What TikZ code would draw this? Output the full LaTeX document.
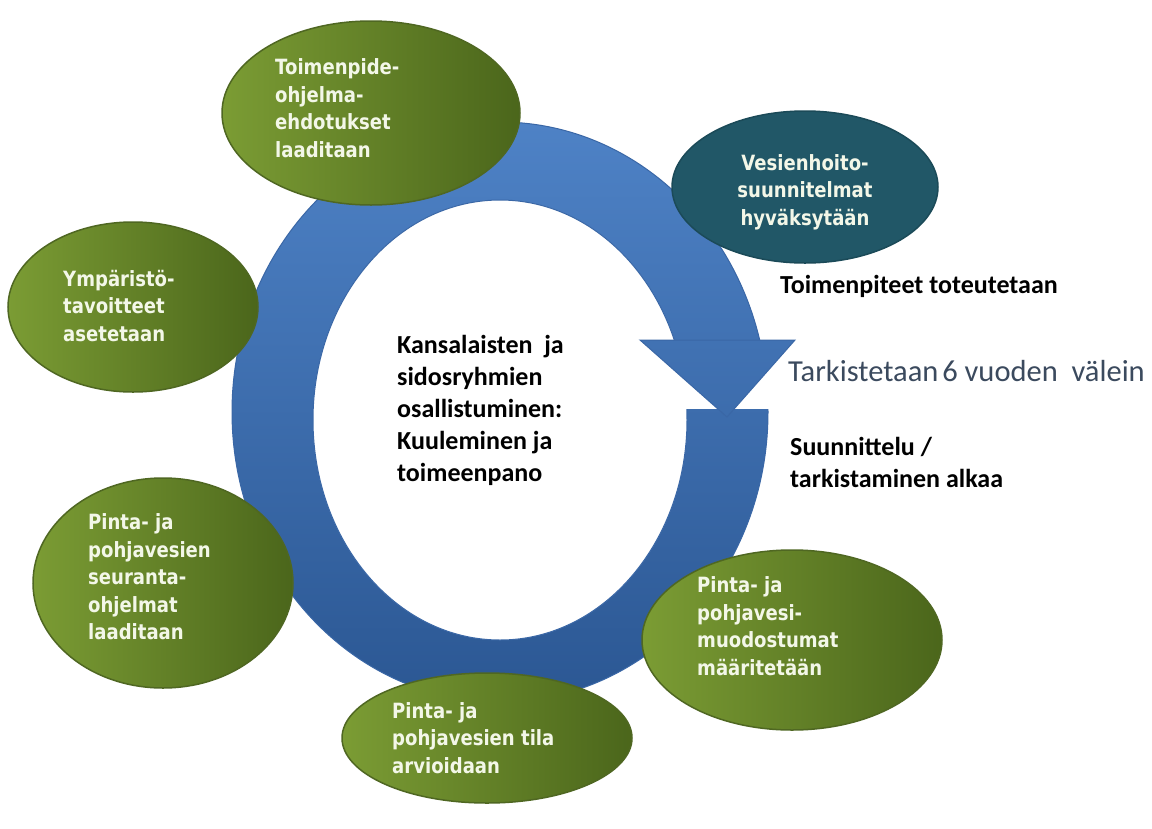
\documentclass[tikz,border=0pt]{standalone}
\usepackage{fontspec}
\setmainfont{Carlito}
\newfontfamily\boxfont[FakeStretch=0.86]{DejaVu Sans Bold}
\usetikzlibrary{shapes.geometric}
\definecolor{ringtop}{HTML}{4E82C6}
\definecolor{ringbot}{HTML}{2B5793}
\definecolor{ringedge}{HTML}{3A67A6}
\definecolor{greenL}{HTML}{7B9C34}
\definecolor{greenR}{HTML}{4B661B}
\definecolor{greenedge}{HTML}{4F6722}
\definecolor{tealfill}{HTML}{215767}
\definecolor{tealedge}{HTML}{1B4A58}
\definecolor{boxwhite}{HTML}{F3F7E8}
\definecolor{slate}{HTML}{3B4A5E}
\begin{document}
\begin{tikzpicture}[x=1pt,y=-1pt,
  greenell/.style={ellipse, inner sep=0pt, left color=greenL, right color=greenR, draw=greenedge, line width=1.5pt},
  tealell/.style={ellipse, inner sep=0pt, fill=tealfill, draw=tealedge, line width=1.5pt},
  boxtext/.style={inner sep=0pt, align=left, text=boxwhite, font=\boxfont\fontsize{21}{27.5}\selectfont},
  blacktext/.style={inner sep=0pt, align=left, text=black, font=\bfseries\fontsize{26}{32}\selectfont},
  slatetext/.style={inner sep=0pt, text=slate, font=\fontsize{30.5}{36}\selectfont}]
\useasboundingbox (0,0) rectangle (1152,828);
\fill[white] (0,0) rectangle (1152,828);
% ring
\shade[top color=ringtop, bottom color=ringbot, draw=ringedge, line width=1pt] (500,412) ellipse [x radius=268, y radius=290];
\fill[white, draw=ringedge, line width=1pt] (500,420) ellipse [x radius=187, y radius=220];
\fill[white] (600,340) rectangle (800,409);
\shade[top color=ringbot!37!ringtop, bottom color=ringbot!50!ringtop, draw=ringedge, line width=1pt] (640,340) -- (795,340) -- (727,417) -- cycle;
% ellipses
\node[greenell, minimum width=298pt, minimum height=184pt] (e1) at (371,113) {};
\node[tealell, minimum width=266pt, minimum height=152pt] (e2) at (805,187) {};
\node[greenell, minimum width=250pt, minimum height=170pt] (e3) at (133,307) {};
\node[greenell, minimum width=260pt, minimum height=210pt] (e4) at (163,583) {};
\node[greenell, minimum width=290pt, minimum height=130pt] (e5) at (487,738) {};
\node[greenell, minimum width=300pt, minimum height=180pt] (e6) at (792,640) {};
% texts
\node[boxtext, anchor=west] (t1) at (275,108) {Toimenpide-\\ohjelma-\\ehdotukset\\laaditaan};
\node[boxtext, align=center] (t2) at (805,192) {Vesienhoito-\\suunnitelmat\\hyväksytään};
\node[boxtext, anchor=west] (t3) at (63,306) {Ympäristö-\\tavoitteet\\asetetaan};
\node[boxtext, anchor=west] (t4) at (88,577) {Pinta- ja\\pohjavesien\\seuranta-\\ohjelmat\\laaditaan};
\node[boxtext, anchor=west] (t5) at (392,738) {Pinta- ja\\pohjavesien tila\\arvioidaan};
\node[boxtext, anchor=west] (t6) at (697,626) {Pinta- ja\\pohjavesi-\\muodostumat\\määritetään};
\node[blacktext, anchor=west] (c) at (397,410) {Kansalaisten\ \ ja\\sidosryhmien\\osallistuminen:\\Kuuleminen ja\\toimeenpano};
\node[blacktext, anchor=base west] (r1) at (780,293) {Toimenpiteet toteutetaan};
\node[slatetext, anchor=base west] (r2) at (788,381) {Tarkistetaan\kern4pt 6 vuoden\ \ välein};
\node[blacktext, anchor=base west] (r3) at (790,455) {Suunnittelu /};
\node[blacktext, anchor=base west] (r4) at (790,487) {tarkistaminen alkaa};
\end{tikzpicture}
\end{document}
